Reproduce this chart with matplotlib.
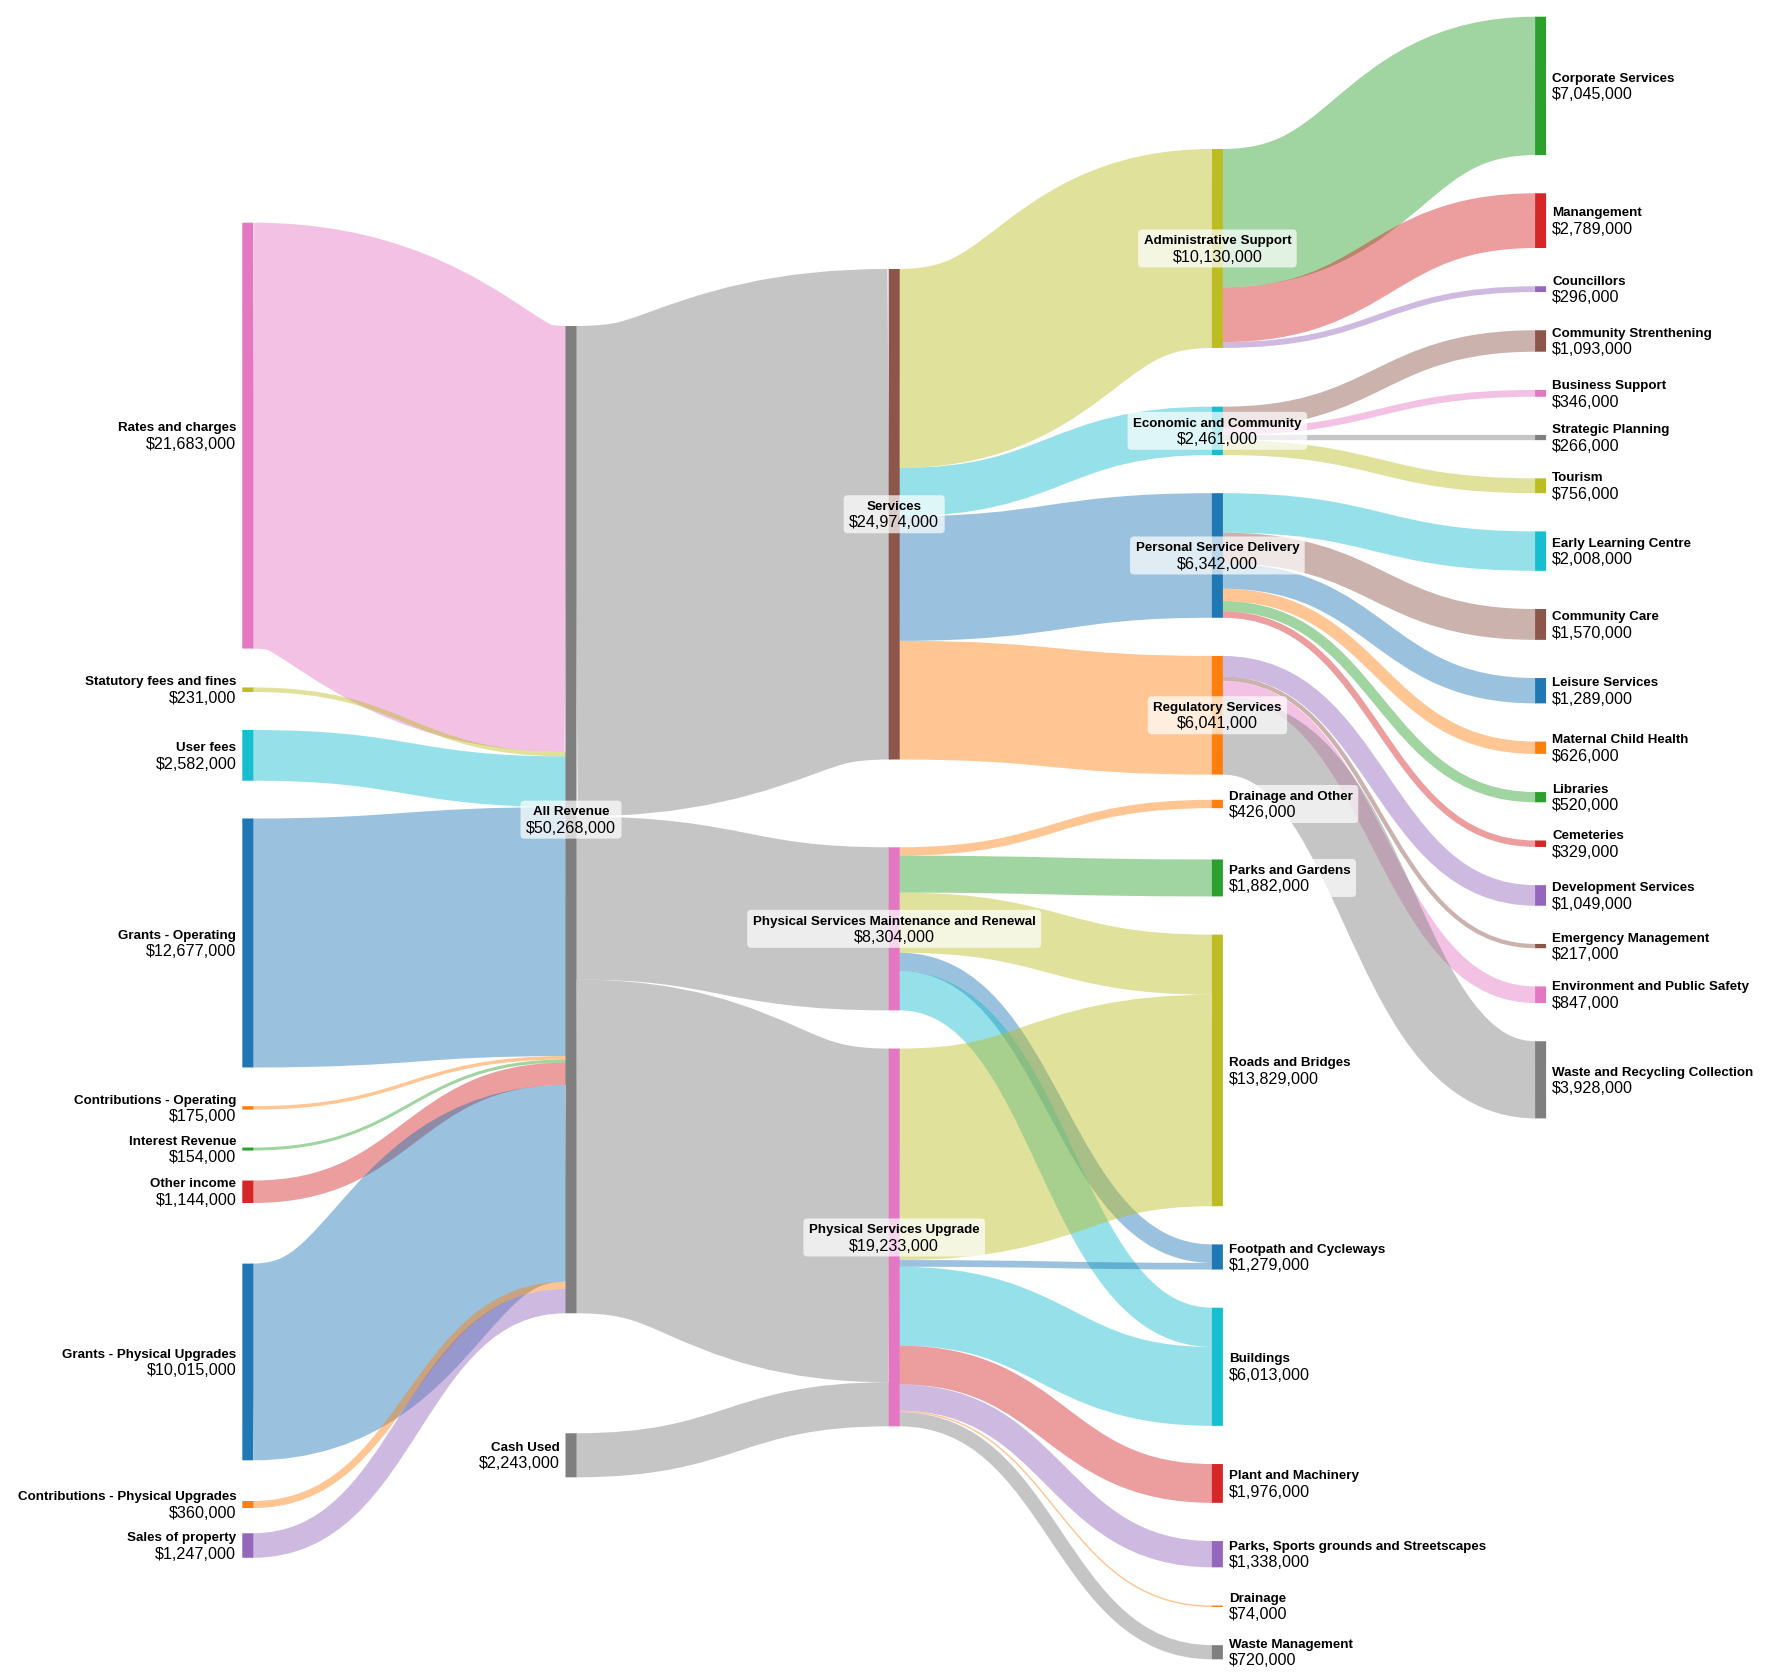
import matplotlib
matplotlib.use("Agg")
import matplotlib.pyplot as plt
from matplotlib.path import Path
from matplotlib.patches import PathPatch, FancyBboxPatch, Rectangle

# ---------------- data (values in $ thousands) ----------------
node_names = [
    "Rates and charges", "Statutory fees and fines", "User fees", "Grants - Operating",
    "Contributions - Operating", "Interest Revenue", "Other income",
    "Grants - Physical Upgrades", "Contributions - Physical Upgrades", "Sales of property",
    "All Revenue", "Cash Used",
    "Services", "Physical Services Maintenance and Renewal", "Physical Services Upgrade",
    "Administrative Support", "Economic and Community", "Personal Service Delivery",
    "Regulatory Services", "Drainage and Other", "Parks and Gardens", "Roads and Bridges",
    "Footpath and Cycleways", "Buildings", "Plant and Machinery",
    "Parks, Sports grounds and Streetscapes", "Drainage", "Waste Management",
    "Corporate Services", "Manangement", "Councillors", "Community Strenthening",
    "Business Support", "Strategic Planning", "Tourism", "Early Learning Centre",
    "Community Care", "Leisure Services", "Maternal Child Health", "Libraries",
    "Cemeteries", "Development Services", "Emergency Management",
    "Environment and Public Safety", "Waste and Recycling Collection",
]

link_sources = (
    ["Rates and charges", "Statutory fees and fines", "User fees", "Grants - Operating",
     "Contributions - Operating", "Interest Revenue", "Other income",
     "Grants - Physical Upgrades", "Contributions - Physical Upgrades", "Sales of property"]
    + ["All Revenue"] * 3 + ["Cash Used"]
    + ["Services"] * 4
    + ["Administrative Support"] * 3
    + ["Economic and Community"] * 4
    + ["Personal Service Delivery"] * 6
    + ["Regulatory Services"] * 4
    + ["Physical Services Maintenance and Renewal"] * 5
    + ["Physical Services Upgrade"] * 7
)
link_targets = (
    ["All Revenue"] * 10
    + ["Services", "Physical Services Maintenance and Renewal", "Physical Services Upgrade",
       "Physical Services Upgrade"]
    + ["Administrative Support", "Economic and Community", "Personal Service Delivery",
       "Regulatory Services"]
    + ["Corporate Services", "Manangement", "Councillors"]
    + ["Community Strenthening", "Business Support", "Strategic Planning", "Tourism"]
    + ["Early Learning Centre", "Community Care", "Leisure Services", "Maternal Child Health",
       "Libraries", "Cemeteries"]
    + ["Development Services", "Emergency Management", "Environment and Public Safety",
       "Waste and Recycling Collection"]
    + ["Drainage and Other", "Parks and Gardens", "Roads and Bridges",
       "Footpath and Cycleways", "Buildings"]
    + ["Roads and Bridges", "Footpath and Cycleways", "Buildings", "Plant and Machinery",
       "Parks, Sports grounds and Streetscapes", "Drainage", "Waste Management"]
)
link_values = (
    [21683, 231, 2582, 12677, 175, 154, 1144, 10015, 360, 1247]
    + [24974, 8304, 16990, 2243]
    + [10130, 2461, 6342, 6041]
    + [7045, 2789, 296]
    + [1093, 346, 266, 756]
    + [2008, 1570, 1289, 626, 520, 329]
    + [1049, 217, 847, 3928]
    + [426, 1882, 3060, 940, 1996]
    + [10769, 339, 4017, 1976, 1338, 74, 720]
)

# ---------------- style ----------------
C = {"blue": "#1f77b4", "orange": "#ff7f0e", "green": "#2ca02c", "red": "#d62728",
     "purple": "#9467bd", "brown": "#8c564b", "pink": "#e377c2", "gray": "#7f7f7f",
     "olive": "#bcbd22", "cyan": "#17becf"}
node_color_names = [
    "pink", "olive", "cyan", "blue", "orange", "green", "red", "blue", "orange", "purple",
    "gray", "gray",
    "brown", "pink", "pink",
    "olive", "cyan", "blue", "orange", "orange", "green", "olive", "blue", "cyan", "red",
    "purple", "orange", "gray",
    "green", "red", "purple", "brown", "pink", "gray", "olive", "cyan", "brown", "blue",
    "orange", "green", "red", "purple", "brown", "pink", "gray",
]

W, H = 1771, 1678
KY = 0.01964          # pixels per $1000
NODE_W = 11
COL_X0 = 242.3
COL_DX = 323.2
PAD = 38.2
MID_COL = 2
FLOW_ALPHA = 0.45
col_layout = {
    0: (222.7, [38.9, 38.0, 37.8, 38.7, 37.9, 30.0, 60.6, 40.7, 25.2]),
    1: (326.0, [120.0]),
    2: (269.0, [87.8, PAD]),
    3: (149.0, [58.7, PAD, PAD, 25.2, 51.3, PAD, PAD, PAD, PAD, PAD, PAD, PAD]),
    4: (16.7, [PAD] * 16),
}
FONT = "Liberation Sans"
NAME_FS = 9.6
VALUE_FS = 11.65
PX2PT = 72.0 / 100.0

# ---------------- layout ----------------
n = len(node_names)
idx = {nm: i for i, nm in enumerate(node_names)}
L = len(link_values)
src = [idx[s] for s in link_sources]
tgt = [idx[t] for t in link_targets]
out_links = {i: [] for i in range(n)}
in_links = {i: [] for i in range(n)}
for k in range(L):
    out_links[src[k]].append(k)
    in_links[tgt[k]].append(k)
node_value = [max(sum(link_values[k] for k in in_links[i]),
                  sum(link_values[k] for k in out_links[i])) for i in range(n)]

depth = [0] * n
changed = True
while changed:
    changed = False
    for k in range(L):
        if depth[tgt[k]] < depth[src[k]] + 1:
            depth[tgt[k]] = depth[src[k]] + 1
            changed = True
col = []
for i in range(n):
    if in_links[i]:
        col.append(depth[i])
    else:
        col.append(min(depth[tgt[k]] for k in out_links[i]) - 1)

y0 = [0.0] * n
y1 = [0.0] * n
for c, (top, gaps) in col_layout.items():
    members = [i for i in range(n) if col[i] == c]
    y = top
    for j, i in enumerate(members):
        y0[i] = y
        y1[i] = y + node_value[i] * KY
        if j < len(gaps):
            y = y1[i] + gaps[j]

xn = [COL_X0 + col[i] * COL_DX for i in range(n)]

lw = [v * KY for v in link_values]
ls = [0.0] * L
lt = [0.0] * L
for i in range(n):
    yy = y0[i]
    for k in sorted(out_links[i], key=lambda k: y0[tgt[k]]):
        ls[k] = yy
        yy += lw[k]
    yy = y0[i]
    for k in sorted(in_links[i], key=lambda k: y0[src[k]]):
        lt[k] = yy
        yy += lw[k]

# ---------------- draw ----------------
fig = plt.figure(figsize=(W / 100, H / 100), dpi=100)
ax = fig.add_axes([0, 0, 1, 1])
ax.set_xlim(0, W)
ax.set_ylim(H, 0)
ax.axis("off")

for k in range(L):
    s, t = src[k], tgt[k]
    xs = xn[s] + NODE_W - 0.6
    xt = xn[t] + 0.6
    xm = (xs + xt) / 2
    ya = ls[k] + lw[k] / 2
    yb = lt[k] + lw[k] / 2
    verts = [(xs, ya), (xm, ya), (xm, yb), (xt, yb)]
    codes = [Path.MOVETO, Path.CURVE4, Path.CURVE4, Path.CURVE4]
    cname = node_color_names[s] if col[t] <= MID_COL else node_color_names[t]
    ax.add_patch(PathPatch(Path(verts, codes), fill=False, edgecolor=C[cname],
                           linewidth=lw[k] * PX2PT, capstyle="butt", snap=False,
                           alpha=FLOW_ALPHA, zorder=1))

for i in range(n):
    ax.add_patch(Rectangle((xn[i], y0[i]), NODE_W, y1[i] - y0[i], snap=False,
                           facecolor=C[node_color_names[i]], edgecolor="none", zorder=2))

fig.canvas.draw()
renderer = fig.canvas.get_renderer()
for i in range(n):
    cy = (y0[i] + y1[i]) / 2
    if in_links[i] and out_links[i]:
        ha, x = "center", xn[i] + NODE_W / 2
    elif not in_links[i]:
        ha, x = "right", xn[i] - 6
    else:
        ha, x = "left", xn[i] + NODE_W + 6
    t1 = ax.text(x, cy - 4.3, node_names[i], fontsize=NAME_FS, fontweight="bold",
                 family=FONT, ha=ha, va="baseline", color="black", zorder=5)
    t2 = ax.text(x, cy + 13.2, "${:,}".format(node_value[i] * 1000), fontsize=VALUE_FS,
                 family=FONT, ha=ha, va="baseline", color="black", zorder=5)
    e1 = t1.get_window_extent(renderer)
    e2 = t2.get_window_extent(renderer)
    left = min(e1.x0, e2.x0) - 5.5
    right = max(e1.x1, e2.x1) + 5.5
    ax.add_patch(FancyBboxPatch((left, cy - 19), right - left, 38,
                                boxstyle="round,pad=0,rounding_size=4",
                                facecolor="white", edgecolor="none", alpha=0.7, zorder=4))

fig.savefig("out.png", dpi=100)
